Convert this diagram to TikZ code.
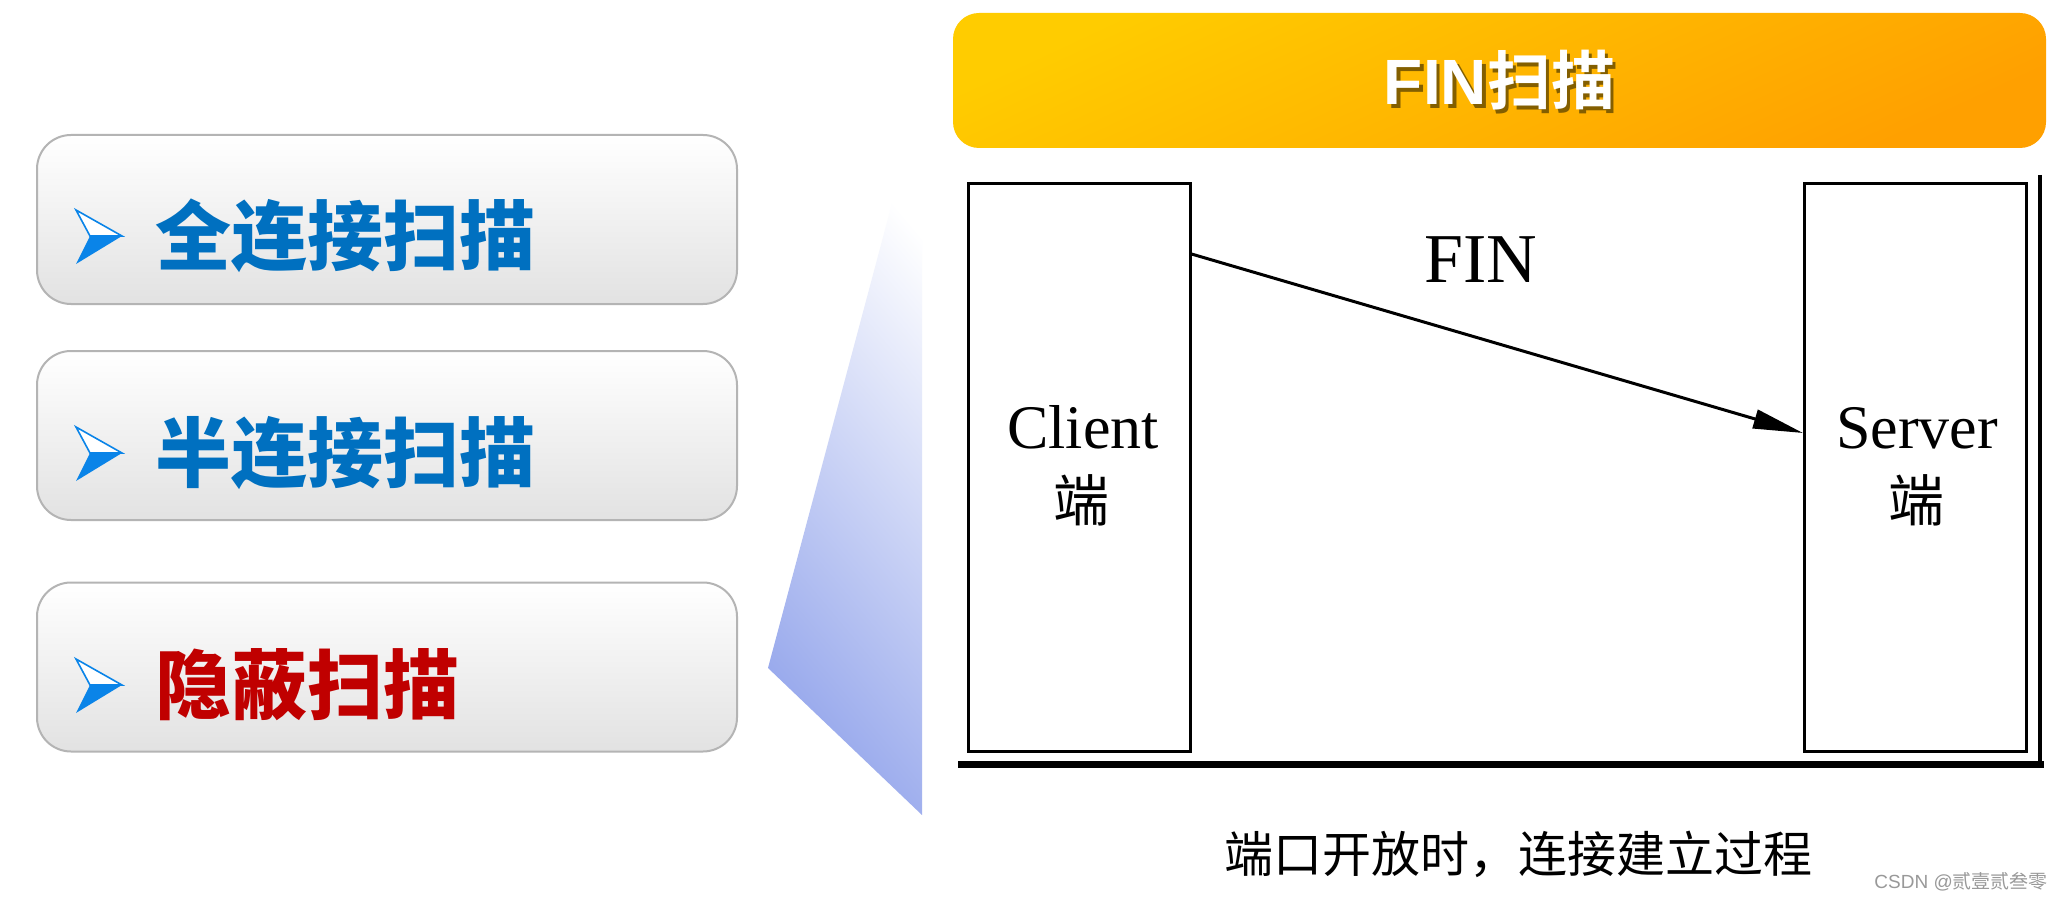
\documentclass[tikz,border=0pt]{standalone}
\usepackage{fontspec}
\setmainfont{Liberation Serif}
\newfontfamily\cjk{Noto Sans CJK SC}
\newfontfamily\cjkb{Noto Sans CJK SC Bold}
\newfontfamily\cjkh{Noto Sans CJK SC Black}
\newfontfamily\sansb{Liberation Sans Bold}
\newfontfamily\sansr{Liberation Sans}
\usetikzlibrary{arrows.meta,calc}
\definecolor{tblue}{HTML}{0070C0}
\definecolor{tred}{HTML}{C00000}
\definecolor{iconblue}{HTML}{0A84E8}
\definecolor{boxedge}{HTML}{B4B4B4}
\definecolor{boxbot}{HTML}{E2E2E2}
\definecolor{bannertop}{HTML}{FFCC00}
\definecolor{bannerbot}{HTML}{FFA000}
\definecolor{wedgeblue}{HTML}{97A8EC}
\definecolor{wedgemid}{HTML}{CCD4F5}
\definecolor{shadowc}{HTML}{6E5000}
\tikzset{
  menubox/.style={draw=boxedge, line width=2pt, rounded corners=34pt,
    top color=white, bottom color=boxbot, minimum width=700pt, minimum height=169pt, inner sep=0pt},
  menutext/.style={anchor=west, inner sep=0pt, font=\cjkh\fontsize{76pt}{80pt}\selectfont},
  sidebox/.style={draw=black, line width=3pt, minimum width=222pt, minimum height=567pt, inner sep=0pt},
  serif62/.style={inner sep=0pt, font=\fontsize{62pt}{64pt}\selectfont},
  duan/.style={inner sep=0pt, font=\cjk\fontsize{56pt}{58pt}\selectfont},
  plane/.pic={
    \fill[iconblue] (-9,0) -- (23,0) -- (-23,28) -- cycle;
    \draw[iconblue, line width=1.6pt, fill=white, line join=miter] (-23,-26) -- (23,0) -- (-9,0) -- cycle;
  }
}
\begin{document}
\begin{tikzpicture}[x=1pt,y=-1pt]
\useasboundingbox (0,0) rectangle (2058,901);
\fill[white] (0,0) rectangle (2058,901);

% blue wedge
\shade[shading=axis, top color=white, middle color=wedgemid, bottom color=wedgeblue, shading angle=-50]
  (918,106) -- (768,668) -- (922,815) -- (922,106) -- cycle;

% left menu
\node[menubox] (b1) at (387,219.5) {};
\node[menubox] (b2) at (387,435.5) {};
\node[menubox] (b3) at (387,667) {};
\pic at (99,236) {plane};
\pic at (99,453) {plane};
\pic at (99,685) {plane};
\node[menutext, text=tblue] (t1) at (155,236) {全连接扫描};
\node[menutext, text=tblue] (t2) at (155,453) {半连接扫描};
\node[menutext, text=tred] (t3) at (155,685) {隐蔽扫描};

% banner
\node[rounded corners=26pt, minimum width=1093pt, minimum height=135pt, inner sep=0pt,
  shading=axis, top color=bannertop, bottom color=bannerbot, shading angle=25] (banner) at (1499.5,80.5) {};
\node[text=shadowc, inner sep=0pt, opacity=0.85] (bshadow) at ($(banner.center)+(3.5,3.5)$)
  {\sansb\fontsize{64pt}{66pt}\selectfont FIN\cjkb 扫描};
\node[text=white, inner sep=0pt] (btitle) at (banner.center)
  {\sansb\fontsize{64pt}{66pt}\selectfont FIN\cjkb 扫描};

% diagram
\node[sidebox] (client) at (1079,467.5) {};
\node[sidebox] (server) at (1915.5,467.5) {};
\node[serif62, anchor=base] (clientlbl) at (1083,448) {Client};
\node[duan] (clientduan) at (1081,500) {端};
\node[serif62, anchor=base] (serverlbl) at (1917,448) {Server};
\node[duan] (serverduan) at (1916,500) {端};
\node[inner sep=0pt, font=\fontsize{70pt}{72pt}\selectfont] (fin) at (1481,260) {FIN};
\coordinate (a1) at (client.east |- 0,254);
\coordinate (a2) at (server.west |- 0,433);
\draw[line width=3pt, -{Triangle[length=50pt,width=19pt]}] (a1) -- (a2);
\coordinate (bl) at (958,764.5);
\coordinate (br) at (2044,764.5);
\draw[line width=7pt] (bl) -- (br);
\coordinate (rt) at (2039.5,175);
\coordinate (rb) at (2039.5,767);
\draw[line width=4pt] (rt) -- (rb);

% caption
\node[inner sep=0pt, font=\cjk\fontsize{49pt}{51pt}\selectfont] (caption) at (1518,854) {端口开放时，连接建立过程};
\node[inner sep=0pt, text=black!40, anchor=east, font=\fontsize{19pt}{21pt}\selectfont] (wm) at (2048,882) {\sansr CSDN @\cjk 贰壹贰叁零};
\end{tikzpicture}
\end{document}
